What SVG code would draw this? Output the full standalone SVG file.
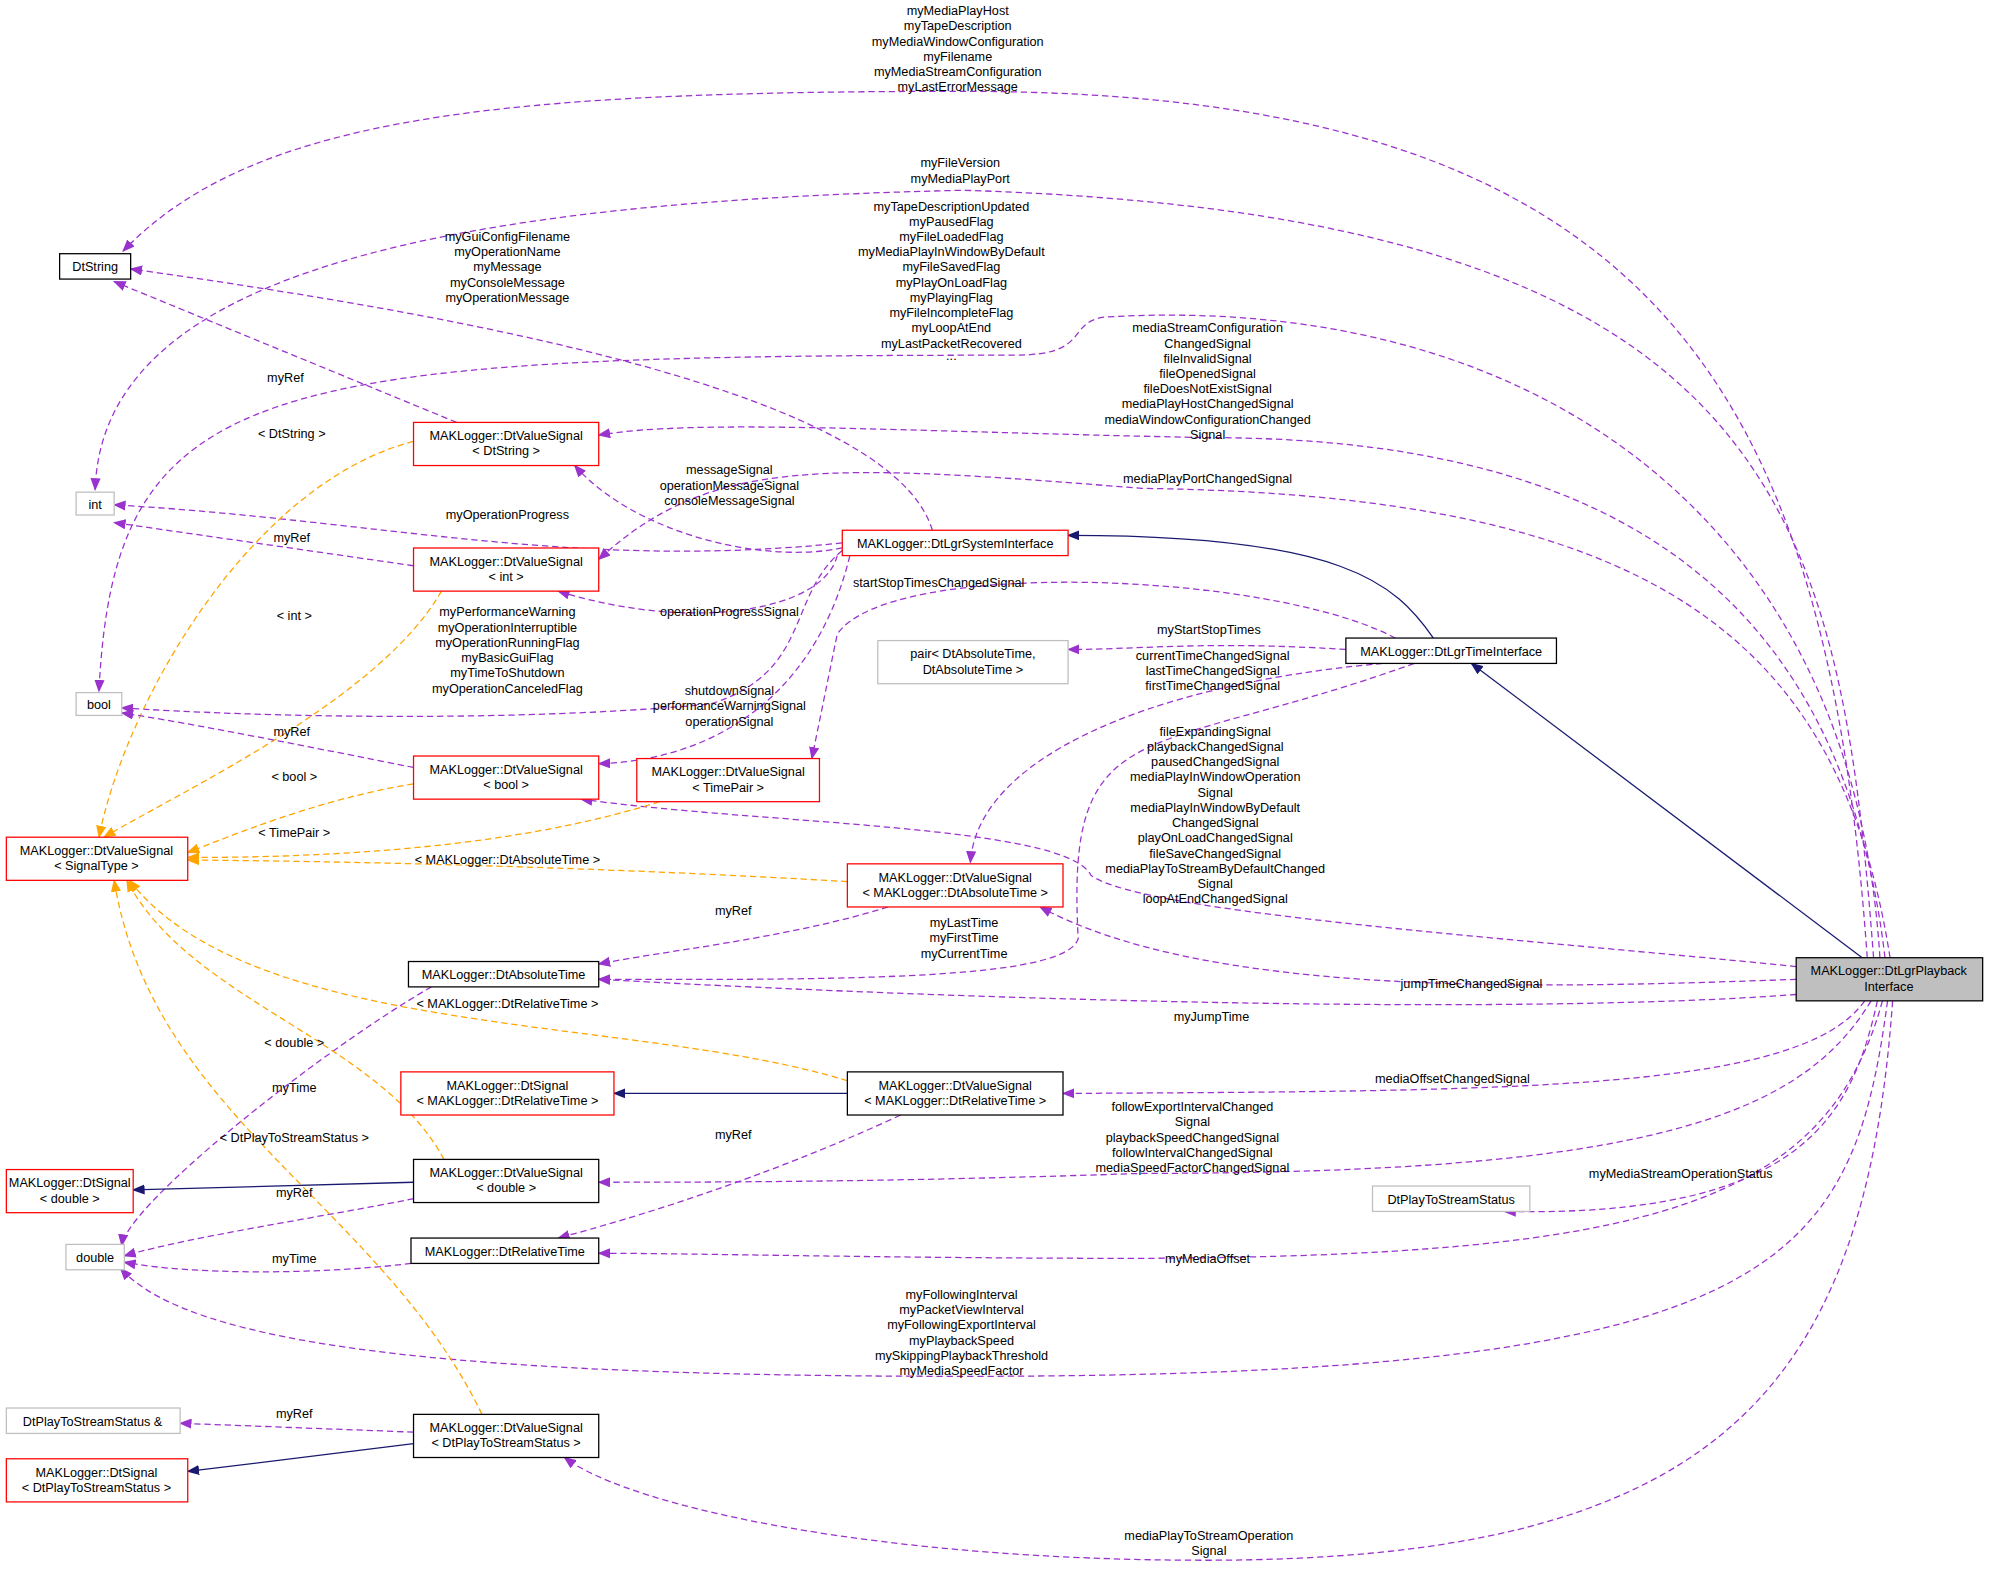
<svg xmlns="http://www.w3.org/2000/svg" width="1989" height="1570" viewBox="0 0 1989 1570">
<style>
text{font-family:"Liberation Sans",Arial,sans-serif;font-size:10px;fill:#000;text-anchor:middle}
.n rect{fill:#fff;stroke-width:1}
.b rect{stroke:#000}.r rect{stroke:#f00}.g rect{stroke:#bfbfbf}
.p{fill:none;stroke:#9a32cd;stroke-dasharray:5,3;marker-end:url(#mp)}
.o{fill:none;stroke:#ffa500;stroke-dasharray:5,3;marker-end:url(#mo)}
.s{fill:none;stroke:#191970;marker-end:url(#ms)}
</style>
<defs>
<marker id="mp" markerWidth="10" markerHeight="8" refX="9" refY="4" orient="auto" markerUnits="userSpaceOnUse"><path d="M0,0L10,4L0,8z" fill="#9a32cd"/></marker>
<marker id="mo" markerWidth="10" markerHeight="8" refX="9" refY="4" orient="auto" markerUnits="userSpaceOnUse"><path d="M0,0L10,4L0,8z" fill="#ffa500"/></marker>
<marker id="ms" markerWidth="10" markerHeight="8" refX="9" refY="4" orient="auto" markerUnits="userSpaceOnUse"><path d="M0,0L10,4L0,8z" fill="#191970"/></marker>
</defs>
<rect width="1989" height="1570" fill="#fff"/>
<g transform="scale(1.2685)">
<g id="connectors">
<path class="p" d="M1472,755 C1440,300 1300,72 760,72 C400,72 200,90 97,198"/>
<path class="p" d="M1477,755 C1450,400 1400,170 760,150 C300,160 80,230 75,386"/>
<path class="p" d="M1482,755 C1460,400 1200,230 870,250 C840,255 860,280 800,280 C200,280 90,300 78,545"/>
<path class="p" d="M1486,755 C1450,450 1250,345 952,345 C700,340 550,330 472,343"/>
<path class="p" d="M1490,755 C1450,500 1300,390 900,385 C650,365 560,360 472,441"/>
<path class="p" d="M1416,762 C1200,740 900,720 860,690 C840,650 600,650 458,630"/>
<path class="p" d="M1416,772 C1200,780 950,785 820,715"/>
<path class="p" d="M1416,784 C1200,800 800,790 472,772"/>
<path class="p" d="M1470,789 C1420,860 1200,860 838,862"/>
<path class="p" d="M1475,789 C1420,880 1300,925 900,925 C700,932 550,932 472,932"/>
<path class="p" d="M1480,789 C1460,880 1420,960 1186,955"/>
<path class="p" d="M1484,789 C1440,950 1300,990 900,992 C700,992 550,988 472,988"/>
<path class="p" d="M1488,789 C1460,1000 1400,1085 760,1085 C350,1085 150,1060 95,1000"/>
<path class="p" d="M1492,789 C1470,1100 1350,1230 950,1230 C700,1230 500,1190 445,1149"/>
<path class="s" d="M1468,755 L1160,523"/>
<path class="s" d="M1130,503 C1100,460 1060,422 842,422"/>
<path class="p" d="M1061,512 C950,505 900,512 842,512"/>
<path class="p" d="M1100,503 C1000,450 700,440 660,500 L640,598"/>
<path class="p" d="M1090,523 C900,540 770,600 765,680"/>
<path class="p" d="M1115,523 C900,600 840,560 850,740 C840,770 700,773 472,772"/>
<path class="p" d="M735,418 C700,300 300,240 103,212"/>
<path class="p" d="M664,432 C600,445 500,420 453,367"/>
<path class="p" d="M664,428 C450,450 300,410 90,398"/>
<path class="p" d="M660,438 C650,480 550,500 440,466"/>
<path class="p" d="M664,434 C620,470 640,530 560,555 C400,570 200,565 96,558"/>
<path class="p" d="M670,438 C640,560 550,600 472,602"/>
<path class="p" d="M360,333 L90,222"/>
<path class="o" d="M326,348 C200,380 100,550 78,660"/>
<path class="p" d="M326,446 L90,412"/>
<path class="o" d="M348,466 C300,550 150,620 82,660"/>
<path class="p" d="M326,605 C250,590 150,570 96,562"/>
<path class="o" d="M326,618 C250,630 180,660 148,672"/>
<path class="o" d="M520,632 C400,670 250,676 148,676"/>
<path class="o" d="M668,695 C500,685 300,679 148,678"/>
<path class="p" d="M700,715 C620,740 520,750 472,760"/>
<path class="o" d="M668,852 C500,800 200,820 102,694"/>
<path class="s" d="M668,862 L484,862"/>
<path class="p" d="M710,879 C600,930 500,960 440,976"/>
<path class="p" d="M340,778 C250,830 100,950 96,982"/>
<path class="o" d="M350,914 C300,820 150,790 100,694"/>
<path class="s" d="M326,932 L105,938"/>
<path class="p" d="M326,945 C250,960 150,975 98,990"/>
<path class="p" d="M324,996 C250,1005 150,1005 98,995"/>
<path class="o" d="M380,1115 C300,950 120,880 90,694"/>
<path class="p" d="M326,1129 L142,1122"/>
<path class="s" d="M326,1138 L148,1160"/>
</g>
<g id="labels">
<text x="755" y="12">myMediaPlayHost</text><text x="755" y="24">myTapeDescription</text><text x="755" y="36">myMediaWindowConfiguration</text><text x="755" y="48">myFilename</text><text x="755" y="60">myMediaStreamConfiguration</text><text x="755" y="72">myLastErrorMessage</text>
<text x="757" y="132">myFileVersion</text><text x="757" y="144">myMediaPlayPort</text>
<text x="750" y="166">myTapeDescriptionUpdated</text><text x="750" y="178">myPausedFlag</text><text x="750" y="190">myFileLoadedFlag</text><text x="750" y="202">myMediaPlayInWindowByDefault</text><text x="750" y="214">myFileSavedFlag</text><text x="750" y="226">myPlayOnLoadFlag</text><text x="750" y="238">myPlayingFlag</text><text x="750" y="250">myFileIncompleteFlag</text><text x="750" y="262">myLoopAtEnd</text><text x="750" y="274">myLastPacketRecovered</text><text x="750" y="284">...</text>
<text x="400" y="190">myGuiConfigFilename</text><text x="400" y="202">myOperationName</text><text x="400" y="214">myMessage</text><text x="400" y="226">myConsoleMessage</text><text x="400" y="238">myOperationMessage</text>
<text x="952" y="262">mediaStreamConfiguration</text><text x="952" y="274">ChangedSignal</text><text x="952" y="286">fileInvalidSignal</text><text x="952" y="298">fileOpenedSignal</text><text x="952" y="310">fileDoesNotExistSignal</text><text x="952" y="322">mediaPlayHostChangedSignal</text><text x="952" y="334">mediaWindowConfigurationChanged</text><text x="952" y="346">Signal</text>
<text x="952" y="381">mediaPlayPortChangedSignal</text>
<text x="575" y="374">messageSignal</text><text x="575" y="386">operationMessageSignal</text><text x="575" y="398">consoleMessageSignal</text>
<text x="400" y="409">myOperationProgress</text>
<text x="740" y="463">startStopTimesChangedSignal</text>
<text x="575" y="486">operationProgressSignal</text>
<text x="400" y="486">myPerformanceWarning</text><text x="400" y="498">myOperationInterruptible</text><text x="400" y="510">myOperationRunningFlag</text><text x="400" y="522">myBasicGuiFlag</text><text x="400" y="534">myTimeToShutdown</text><text x="400" y="546">myOperationCanceledFlag</text>
<text x="953" y="500">myStartStopTimes</text>
<text x="956" y="520">currentTimeChangedSignal</text><text x="956" y="532">lastTimeChangedSignal</text><text x="956" y="544">firstTimeChangedSignal</text>
<text x="575" y="548">shutdownSignal</text><text x="575" y="560">performanceWarningSignal</text><text x="575" y="572">operationSignal</text>
<text x="958" y="580">fileExpandingSignal</text><text x="958" y="592">playbackChangedSignal</text><text x="958" y="604">pausedChangedSignal</text><text x="958" y="616">mediaPlayInWindowOperation</text><text x="958" y="628">Signal</text><text x="958" y="640">mediaPlayInWindowByDefault</text><text x="958" y="652">ChangedSignal</text><text x="958" y="664">playOnLoadChangedSignal</text><text x="958" y="676">fileSaveChangedSignal</text><text x="958" y="688">mediaPlayToStreamByDefaultChanged</text><text x="958" y="700">Signal</text><text x="958" y="712">loopAtEndChangedSignal</text>
<text x="225" y="301">myRef</text><text x="230" y="345">&lt; DtString &gt;</text>
<text x="230" y="427">myRef</text><text x="232" y="489">&lt; int &gt;</text>
<text x="230" y="580">myRef</text><text x="232" y="616">&lt; bool &gt;</text>
<text x="232" y="660">&lt; TimePair &gt;</text>
<text x="400" y="681">&lt; MAKLogger::DtAbsoluteTime &gt;</text>
<text x="578" y="721">myRef</text>
<text x="760" y="731">myLastTime</text><text x="760" y="743">myFirstTime</text><text x="760" y="755">myCurrentTime</text>
<text x="1160" y="779">jumpTimeChangedSignal</text>
<text x="400" y="795">&lt; MAKLogger::DtRelativeTime &gt;</text>
<text x="955" y="805">myJumpTime</text>
<text x="232" y="825">&lt; double &gt;</text>
<text x="1145" y="854">mediaOffsetChangedSignal</text>
<text x="232" y="861">myTime</text>
<text x="940" y="876">followExportIntervalChanged</text><text x="940" y="888">Signal</text><text x="940" y="900">playbackSpeedChangedSignal</text><text x="940" y="912">followIntervalChangedSignal</text><text x="940" y="924">mediaSpeedFactorChangedSignal</text>
<text x="578" y="898">myRef</text>
<text x="232" y="900">&lt; DtPlayToStreamStatus &gt;</text>
<text x="1325" y="929">myMediaStreamOperationStatus</text>
<text x="232" y="944">myRef</text>
<text x="232" y="996">myTime</text>
<text x="952" y="996">myMediaOffset</text>
<text x="758" y="1024">myFollowingInterval</text><text x="758" y="1036">myPacketViewInterval</text><text x="758" y="1048">myFollowingExportInterval</text><text x="758" y="1060">myPlaybackSpeed</text><text x="758" y="1072">mySkippingPlaybackThreshold</text><text x="758" y="1084">myMediaSpeedFactor</text>
<text x="232" y="1118">myRef</text>
<text x="953" y="1214">mediaPlayToStreamOperation</text><text x="953" y="1226">Signal</text>
</g>
<g id="DtString" class="n b"><rect x="47" y="200" width="56" height="20"/><text x="75" y="214">DtString</text></g>
<g id="int" class="n g"><rect x="60" y="388" width="30" height="18"/><text x="75" y="401">int</text></g>
<g id="bool" class="n g"><rect x="60" y="546" width="36" height="18"/><text x="78" y="559">bool</text></g>
<g id="SignalType" class="n r"><rect x="5" y="660" width="143" height="34"/><text x="76" y="674">MAKLogger::DtValueSignal</text><text x="76" y="686">&lt; SignalType &gt;</text></g>
<g id="DtSignalDouble" class="n r"><rect x="5" y="922" width="100" height="34"/><text x="55" y="936">MAKLogger::DtSignal</text><text x="55" y="948">&lt; double &gt;</text></g>
<g id="double" class="n g"><rect x="52" y="981" width="46" height="20"/><text x="75" y="995">double</text></g>
<g id="PTSSRef" class="n g"><rect x="5" y="1110" width="137" height="20"/><text x="73" y="1124">DtPlayToStreamStatus &amp;</text></g>
<g id="DtSignalPTSS" class="n r"><rect x="5" y="1150" width="143" height="34"/><text x="76" y="1164">MAKLogger::DtSignal</text><text x="76" y="1176">&lt; DtPlayToStreamStatus &gt;</text></g>
<g id="VSDtString" class="n r"><rect x="326" y="333" width="146" height="34"/><text x="399" y="347">MAKLogger::DtValueSignal</text><text x="399" y="359">&lt; DtString &gt;</text></g>
<g id="VSInt" class="n r"><rect x="326" y="432" width="146" height="34"/><text x="399" y="446">MAKLogger::DtValueSignal</text><text x="399" y="458">&lt; int &gt;</text></g>
<g id="VSBool" class="n r"><rect x="326" y="596" width="146" height="34"/><text x="399" y="610">MAKLogger::DtValueSignal</text><text x="399" y="622">&lt; bool &gt;</text></g>
<g id="AbsTime" class="n b"><rect x="322" y="758" width="150" height="20"/><text x="397" y="772">MAKLogger::DtAbsoluteTime</text></g>
<g id="SigRelTime" class="n r"><rect x="316" y="845" width="168" height="34"/><text x="400" y="859">MAKLogger::DtSignal</text><text x="400" y="871">&lt; MAKLogger::DtRelativeTime &gt;</text></g>
<g id="VSDouble" class="n b"><rect x="326" y="914" width="146" height="34"/><text x="399" y="928">MAKLogger::DtValueSignal</text><text x="399" y="940">&lt; double &gt;</text></g>
<g id="RelTime" class="n b"><rect x="324" y="976" width="148" height="20"/><text x="398" y="990">MAKLogger::DtRelativeTime</text></g>
<g id="VSPTSS" class="n b"><rect x="326" y="1115" width="146" height="34"/><text x="399" y="1129">MAKLogger::DtValueSignal</text><text x="399" y="1141">&lt; DtPlayToStreamStatus &gt;</text></g>
<g id="SystemIf" class="n r"><rect x="664" y="418" width="178" height="20"/><text x="753" y="432">MAKLogger::DtLgrSystemInterface</text></g>
<g id="pair" class="n g"><rect x="692" y="505" width="150" height="34"/><text x="767" y="519">pair&lt; DtAbsoluteTime,</text><text x="767" y="531">DtAbsoluteTime &gt;</text></g>
<g id="VSTimePair" class="n r"><rect x="502" y="598" width="144" height="34"/><text x="574" y="612">MAKLogger::DtValueSignal</text><text x="574" y="624">&lt; TimePair &gt;</text></g>
<g id="VSAbsTime" class="n r"><rect x="668" y="681" width="170" height="34"/><text x="753" y="695">MAKLogger::DtValueSignal</text><text x="753" y="707">&lt; MAKLogger::DtAbsoluteTime &gt;</text></g>
<g id="VSRelTime" class="n b"><rect x="668" y="845" width="170" height="34"/><text x="753" y="859">MAKLogger::DtValueSignal</text><text x="753" y="871">&lt; MAKLogger::DtRelativeTime &gt;</text></g>
<g id="TimeIf" class="n b"><rect x="1061" y="503" width="166" height="20"/><text x="1144" y="517">MAKLogger::DtLgrTimeInterface</text></g>
<g id="PTSS" class="n g"><rect x="1082" y="935" width="124" height="20"/><text x="1144" y="949">DtPlayToStreamStatus</text></g>
<g id="Playback"><rect x="1416" y="755" width="147" height="34" fill="#bfbfbf" stroke="#000"/><text x="1489" y="769">MAKLogger::DtLgrPlayback</text><text x="1489" y="781">Interface</text></g>
</g>
</svg>
